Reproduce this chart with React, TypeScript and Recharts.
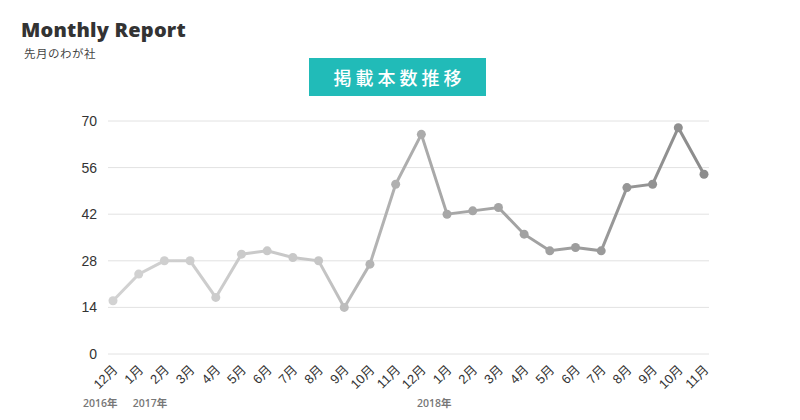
import React from 'react';
import { LineChart, Line, XAxis, YAxis, CartesianGrid } from 'recharts';

const months = ['12月','1月','2月','3月','4月','5月','6月','7月','8月','9月','10月','11月','12月','1月','2月','3月','4月','5月','6月','7月','8月','9月','10月','11月'];
const counts = [16,24,28,28,17,30,31,29,28,14,27,51,66,42,43,44,36,31,32,31,50,51,68,54];
const yTicks = [0,14,28,42,56,70];
const yearLabels: Record<number, string> = { 0: '2016年', 1: '2017年', 13: '2018年' };

const data = months.map((m, i) => ({ idx: i, month: m, value: counts[i] }));

const gradStops: [number, number][] = [
  [0, 0xd2], [0.35, 0xc6], [0.42, 0xb6], [0.55, 0xa8], [0.75, 0xa0], [0.95, 0x8f], [1, 0x8c],
];
const grayAt = (t: number) => {
  for (let k = 1; k < gradStops.length; k++) {
    const [t0, v0] = gradStops[k - 1];
    const [t1, v1] = gradStops[k];
    if (t <= t1) {
      const v = Math.round(v0 + ((v1 - v0) * (t - t0)) / (t1 - t0));
      const h = v.toString(16).padStart(2, '0');
      return `#${h}${h}${h}`;
    }
  }
  return '#8c8c8c';
};

const yearDx: Record<number, number> = { 0: -30, 1: -6, 13: -30 };

const MonthTick = (props: any) => {
  const { x, y, payload } = props;
  const label = months[payload.value];
  const yl = yearLabels[payload.value];
  return (
    <g>
      <text
        x={x + 3}
        y={y + 6}
        transform={`rotate(-45, ${x + 3}, ${y + 6})`}
        textAnchor="end"
        dominantBaseline="middle"
        fontSize={13}
        fill="#333"
        fontFamily="'Liberation Sans', Arial, 'Noto Sans CJK JP', sans-serif"
      >
        {label}
      </text>
      {yl ? (
        <text
          x={x + yearDx[payload.value]}
          y={y + 45}
          fontSize={10.5}
          fontWeight={600}
          fill="#777"
          fontFamily="'Open Sans', 'Noto Sans CJK JP', sans-serif"
        >
          {yl}
        </text>
      ) : null}
    </g>
  );
};

const Dot = (props: any) => {
  const { cx, cy, index } = props;
  return <circle cx={cx} cy={cy} r={4.5} fill={grayAt(index / (counts.length - 1))} />;
};

export default function App() {
  return (
    <div style={{ position: 'fixed', left: 0, top: 0, width: 800, height: 420, background: '#fff', overflow: 'hidden' }}>
      <div style={{ position: 'absolute', left: 21, top: 17, fontFamily: "'Open Sans', sans-serif", fontWeight: 800, fontSize: 20, color: '#333', whiteSpace: 'nowrap', lineHeight: '26px', letterSpacing: 0.2 }}>
        Monthly Report
      </div>
      <div style={{ position: 'absolute', left: 24, top: 45, fontFamily: "'Noto Sans CJK JP', sans-serif", fontSize: 11.5, color: '#444', whiteSpace: 'nowrap', lineHeight: '16px', letterSpacing: 0.5 }}>
        先月のわが社
      </div>
      <div style={{ position: 'absolute', left: 309, top: 58, width: 177, height: 38, background: '#21bbb8', color: '#fff', display: 'flex', alignItems: 'center', justifyContent: 'center', fontFamily: "'Noto Sans CJK JP', sans-serif", fontWeight: 500, fontSize: 18, letterSpacing: 4, paddingLeft: 4, boxSizing: 'border-box' }}>
        掲載本数推移
      </div>
      <div style={{ position: 'absolute', left: 0, top: 0 }}>
        <LineChart width={800} height={420} data={data} margin={{ top: 121, right: 91, bottom: 36, left: 68 }}>
          <defs>
            <linearGradient id="lineGrad" x1="0" y1="0" x2="1" y2="0">
              {gradStops.map(([t, v], i) => {
                const h = v.toString(16).padStart(2, '0');
                return <stop key={i} offset={`${t * 100}%`} stopColor={`#${h}${h}${h}`} />;
              })}
            </linearGradient>
          </defs>
          <CartesianGrid vertical={false} stroke="#e2e2e2" strokeWidth={1} />
          <XAxis
            dataKey="idx"
            type="category"
            axisLine={false}
            tickLine={false}
            interval={0}
            height={30}
            padding={{ left: 5, right: 5 }}
            tick={<MonthTick />}
          />
          <YAxis
            domain={[0, 70]}
            ticks={yTicks}
            axisLine={false}
            tickLine={false}
            width={40}
            tickMargin={5}
            tick={{ fontSize: 14, fill: '#333', fontFamily: "'Liberation Sans', Arial, sans-serif" }}
          />
          <Line
            type="linear"
            dataKey="value"
            stroke="url(#lineGrad)"
            strokeWidth={3}
            dot={<Dot />}
            activeDot={false}
            isAnimationActive={false}
          />
        </LineChart>
      </div>
    </div>
  );
}
